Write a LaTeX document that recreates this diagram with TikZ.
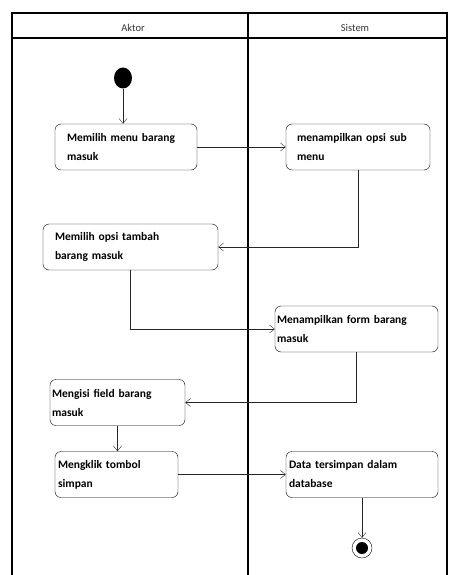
\documentclass[tikz,border=0pt]{standalone}
\usepackage{fontspec}
\setmainfont{Carlito}
\usetikzlibrary{arrows.meta,shapes.geometric}

\begin{document}
\begin{tikzpicture}[
  x=1pt, y=-1pt,
  lane/.style={line width=1.6pt},
  act/.style={rectangle, draw, rounded corners=6pt, align=left, minimum height=46pt,
    font=\fontsize{11.5}{19}\selectfont\bfseries, inner ysep=2pt},
  flow/.style={draw, gray!30!black, -{Straight Barb[length=5pt,width=8pt]}},
  head/.style={font=\fontsize{10.5}{12}\selectfont, text=black!80}
]
\useasboundingbox (0,0) rectangle (448,575);
\draw[lane] (12,575) -- (12,13) -- (447,13) -- (447,575);
\draw[lane] (12,38) -- (447,38);
\draw[line width=2.4pt] (248,13) -- (248,575);
\node[head] (aktor) at (133,28) {Aktor};
\node[head] (sistem) at (355,28) {Sistem};

\node[ellipse, fill=black, minimum width=18pt, minimum height=21pt, inner sep=0pt] (start) at (123,78) {};

\node[act, text width=118pt, inner xsep=12pt] (b1) at (126,147) {Memilih menu barang\\masuk};
\node[act, text width=122pt, inner xsep=11pt] (b2) at (358,147) {menampilkan opsi sub\\menu};
\node[act, text width=151pt, inner xsep=12pt] (b3) at (130.5,247) {Memilih opsi tambah\\barang masuk};
\node[act, text width=159pt, inner xsep=2pt] (b4) at (356.5,329) {Menampilkan form barang\\masuk};
\node[act, text width=131pt, inner xsep=2pt] (b5) at (117.5,402.5) {Mengisi field barang\\masuk};
\node[act, text width=117pt, inner xsep=3pt] (b6) at (116.5,474.5) {Mengklik tombol\\simpan};
\node[act, text width=146pt, inner xsep=3pt] (b7) at (362,474.5) {Data tersimpan dalam\\database};

\node[circle, draw, minimum size=20pt, inner sep=0pt] (stop) at (362,548) {};
\fill (stop) circle (6pt);

\draw[flow] (start) -- (start |- b1.north);
\draw[flow] (b1) -- (b2);
\draw[flow] (b2.south) |- (b3.east);
\draw[flow] (b3.south) |- (b4.west);
\draw[flow] (b4.south) |- (b5.east);
\draw[flow] (b5.south) -- (b5.south |- b6.north);
\draw[flow] (b6) -- (b7);
\draw[flow] (b7) -- (stop);
\end{tikzpicture}
\end{document}
